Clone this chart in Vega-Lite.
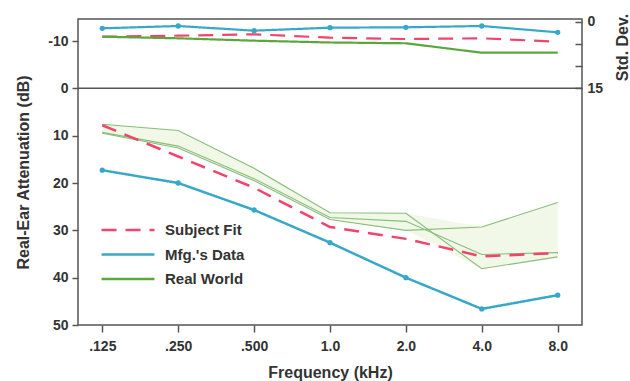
{
  "$schema": "https://vega.github.io/schema/vega-lite/v6.json",
  "width": 504,
  "height": 306,
  "autosize": {"type": "none"},
  "padding": {"left": 78, "top": 19, "right": 48, "bottom": 56},
  "background": "white",
  "config": {
    "view": {"stroke": "#555", "strokeWidth": 1.5},
    "font": "Liberation Sans",
    "axis": {
      "labelFont": "Liberation Sans", "labelFontWeight": "bold", "labelFontSize": 14, "labelColor": "#333",
      "titleFont": "Liberation Sans", "titleFontWeight": "bold", "titleFontSize": 16, "titleColor": "#333",
      "tickColor": "#555", "tickWidth": 1.5, "domain": false, "grid": false
    },
    "legend": {
      "orient": "none", "legendX": 22, "legendY": 204,
      "symbolType": "stroke", "symbolSize": 2800, "symbolStrokeWidth": 2.5,
      "labelFont": "Liberation Sans", "labelFontWeight": "bold", "labelFontSize": 15, "labelColor": "#333",
      "labelOffset": 9, "clipHeight": 14, "rowPadding": 9.5
    }
  },
  "datasets": {
    "main": [
      {"freq": ".125", "series": "Subject Fit", "db": 7.8},
      {"freq": ".250", "series": "Subject Fit", "db": 14.4},
      {"freq": ".500", "series": "Subject Fit", "db": 21.0},
      {"freq": "1.0", "series": "Subject Fit", "db": 29.3},
      {"freq": "2.0", "series": "Subject Fit", "db": 31.8},
      {"freq": "4.0", "series": "Subject Fit", "db": 35.5},
      {"freq": "8.0", "series": "Subject Fit", "db": 34.8},
      {"freq": ".125", "series": "Mfg.'s Data", "db": 17.3},
      {"freq": ".250", "series": "Mfg.'s Data", "db": 20.0},
      {"freq": ".500", "series": "Mfg.'s Data", "db": 25.7},
      {"freq": "1.0", "series": "Mfg.'s Data", "db": 32.6},
      {"freq": "2.0", "series": "Mfg.'s Data", "db": 40.0},
      {"freq": "4.0", "series": "Mfg.'s Data", "db": 46.6},
      {"freq": "8.0", "series": "Mfg.'s Data", "db": 43.7}
    ],
    "rw": [
      {"freq": ".125", "line": "A", "db": 7.6},
      {"freq": ".250", "line": "A", "db": 8.9},
      {"freq": ".500", "line": "A", "db": 16.9},
      {"freq": "1.0", "line": "A", "db": 26.3},
      {"freq": "2.0", "line": "A", "db": 26.4},
      {"freq": "4.0", "line": "A", "db": 38.1},
      {"freq": "8.0", "line": "A", "db": 35.6},
      {"freq": ".125", "line": "B", "db": 9.3},
      {"freq": ".250", "line": "B", "db": 12.2},
      {"freq": ".500", "line": "B", "db": 19.1},
      {"freq": "1.0", "line": "B", "db": 27.3},
      {"freq": "2.0", "line": "B", "db": 28.1},
      {"freq": "4.0", "line": "B", "db": 35.1},
      {"freq": "8.0", "line": "B", "db": 34.7},
      {"freq": ".125", "line": "C", "db": 9.5},
      {"freq": ".250", "line": "C", "db": 12.6},
      {"freq": ".500", "line": "C", "db": 19.5},
      {"freq": "1.0", "line": "C", "db": 27.7},
      {"freq": "2.0", "line": "C", "db": 30.0},
      {"freq": "4.0", "line": "C", "db": 29.3},
      {"freq": "8.0", "line": "C", "db": 24.1}
    ],
    "band": [
      {"freq": ".125", "lo": 7.6, "hi": 9.5},
      {"freq": ".250", "lo": 8.9, "hi": 12.6},
      {"freq": ".500", "lo": 16.9, "hi": 19.5},
      {"freq": "1.0", "lo": 26.3, "hi": 27.7},
      {"freq": "2.0", "lo": 26.4, "hi": 30.0},
      {"freq": "4.0", "lo": 29.3, "hi": 38.1},
      {"freq": "8.0", "lo": 24.1, "hi": 35.6}
    ],
    "zero": [{"v": 0}],
    "sd": [
      {"freq": ".125", "series": "Mfg.'s Data", "sd": 1.43},
      {"freq": ".250", "series": "Mfg.'s Data", "sd": 0.91},
      {"freq": ".500", "series": "Mfg.'s Data", "sd": 1.97},
      {"freq": "1.0", "series": "Mfg.'s Data", "sd": 1.29},
      {"freq": "2.0", "series": "Mfg.'s Data", "sd": 1.2},
      {"freq": "4.0", "series": "Mfg.'s Data", "sd": 0.91},
      {"freq": "8.0", "series": "Mfg.'s Data", "sd": 2.34},
      {"freq": ".125", "series": "Subject Fit", "sd": 3.34},
      {"freq": ".250", "series": "Subject Fit", "sd": 3.11},
      {"freq": ".500", "series": "Subject Fit", "sd": 2.79},
      {"freq": "1.0", "series": "Subject Fit", "sd": 3.56},
      {"freq": "2.0", "series": "Subject Fit", "sd": 3.86},
      {"freq": "4.0", "series": "Subject Fit", "sd": 3.7},
      {"freq": "8.0", "series": "Subject Fit", "sd": 4.47},
      {"freq": ".125", "series": "Real World", "sd": 3.34},
      {"freq": ".250", "series": "Real World", "sd": 3.7},
      {"freq": ".500", "series": "Real World", "sd": 4.24},
      {"freq": "1.0", "series": "Real World", "sd": 4.65},
      {"freq": "2.0", "series": "Real World", "sd": 4.83},
      {"freq": "4.0", "series": "Real World", "sd": 6.97},
      {"freq": "8.0", "series": "Real World", "sd": 6.97}
    ]
  },
  "layer": [
    {
      "layer": [
        {
          "data": {"name": "band"},
          "mark": {"type": "area", "color": "#f1f8e7", "opacity": 1},
          "encoding": {
            "x": {"field": "freq", "type": "ordinal", "title": "Frequency (kHz)",
                  "scale": {"type": "point", "domain": [".125", ".250", ".500", "1.0", "2.0", "4.0", "8.0"], "padding": 0.32},
                  "axis": {"title": "Frequency (kHz)", "labelAngle": 0, "tickSize": 7, "labelPadding": 7, "titlePadding": 11}},
            "y": {"field": "lo", "type": "quantitative", "title": "Real-Ear Attenuation (dB)",
                  "scale": {"domain": [-14.65, 50], "reverse": true, "nice": false, "zero": false},
                  "axis": {"orient": "left", "title": "Real-Ear Attenuation (dB)", "values": [-10, 0, 10, 20, 30, 40, 50],
                           "labelExpr": "'' + datum.value", "tickSize": 6, "labelPadding": 4, "titlePadding": 16}},
            "y2": {"field": "hi"}
          }
        },
        {
          "data": {"name": "rw"},
          "mark": {"type": "line", "color": "#88bd7a", "strokeWidth": 1.1},
          "encoding": {
            "x": {"field": "freq", "type": "ordinal", "title": "Frequency (kHz)", "scale": {"type": "point", "domain": [".125", ".250", ".500", "1.0", "2.0", "4.0", "8.0"], "padding": 0.32}},
            "y": {"field": "db", "type": "quantitative", "title": "Real-Ear Attenuation (dB)", "scale": {"domain": [-14.65, 50], "reverse": true, "nice": false, "zero": false}},
            "detail": {"field": "line"}
          }
        },
        {
          "data": {"name": "zero"},
          "mark": {"type": "rule", "color": "#555", "strokeWidth": 1.5},
          "encoding": {
            "y": {"field": "v", "type": "quantitative", "title": "Real-Ear Attenuation (dB)", "scale": {"domain": [-14.65, 50], "reverse": true, "nice": false, "zero": false}}
          }
        },
        {
          "data": {"name": "main"},
          "mark": {"type": "line", "strokeWidth": 2.5},
          "encoding": {
            "x": {"field": "freq", "type": "ordinal", "title": "Frequency (kHz)", "scale": {"type": "point", "domain": [".125", ".250", ".500", "1.0", "2.0", "4.0", "8.0"], "padding": 0.32}},
            "y": {"field": "db", "type": "quantitative", "title": "Real-Ear Attenuation (dB)", "scale": {"domain": [-14.65, 50], "reverse": true, "nice": false, "zero": false}},
            "color": {"field": "series", "type": "nominal",
                      "scale": {"domain": ["Subject Fit", "Mfg.'s Data", "Real World"], "range": ["#f0446c", "#38a8c8", "#5aa83c"]},
                      "legend": {"title": null}},
            "strokeDash": {"field": "series", "type": "nominal",
                           "scale": {"domain": ["Subject Fit", "Mfg.'s Data", "Real World"], "range": [[15, 9], [1, 0], [1, 0]]},
                           "legend": {"title": null}}
          }
        },
        {
          "data": {"name": "main"},
          "transform": [{"filter": "datum.series === \"Mfg.'s Data\""}],
          "mark": {"type": "point", "filled": true, "color": "#38a8c8", "size": 28, "opacity": 1},
          "encoding": {
            "x": {"field": "freq", "type": "ordinal", "title": "Frequency (kHz)", "scale": {"type": "point", "domain": [".125", ".250", ".500", "1.0", "2.0", "4.0", "8.0"], "padding": 0.32}},
            "y": {"field": "db", "type": "quantitative", "title": "Real-Ear Attenuation (dB)", "scale": {"domain": [-14.65, 50], "reverse": true, "nice": false, "zero": false}}
          }
        }
      ]
    },
    {
      "layer": [
        {
          "data": {"name": "sd"},
          "mark": {"type": "line", "strokeWidth": 2.2},
          "encoding": {
            "x": {"field": "freq", "type": "ordinal", "title": "Frequency (kHz)", "scale": {"type": "point", "domain": [".125", ".250", ".500", "1.0", "2.0", "4.0", "8.0"], "padding": 0.32}},
            "y": {"field": "sd", "type": "quantitative", "title": "Std. Dev.",
                  "scale": {"domain": [-0.68, 68.76], "reverse": true, "nice": false, "zero": false},
                  "axis": {"orient": "right", "title": "Std. Dev.", "values": [0, 5, 10, 15],
                           "labelExpr": "datum.value == 0 || datum.value == 15 ? datum.label : ''",
                           "tickSize": -7, "labelPadding": 12, "titleAngle": -90, "titleX": 40, "titleY": 28,
                           "titleAlign": "center", "titleBaseline": "middle"}},
            "color": {"field": "series", "type": "nominal",
                      "scale": {"domain": ["Subject Fit", "Mfg.'s Data", "Real World"], "range": ["#f0446c", "#38a8c8", "#5aa83c"]},
                      "legend": {"title": null}},
            "strokeDash": {"field": "series", "type": "nominal",
                           "scale": {"domain": ["Subject Fit", "Mfg.'s Data", "Real World"], "range": [[15, 9], [1, 0], [1, 0]]},
                           "legend": {"title": null}}
          }
        },
        {
          "data": {"name": "sd"},
          "transform": [{"filter": "datum.series === \"Mfg.'s Data\""}],
          "mark": {"type": "point", "filled": true, "color": "#38a8c8", "size": 28, "opacity": 1},
          "encoding": {
            "x": {"field": "freq", "type": "ordinal", "title": "Frequency (kHz)", "scale": {"type": "point", "domain": [".125", ".250", ".500", "1.0", "2.0", "4.0", "8.0"], "padding": 0.32}},
            "y": {"field": "sd", "type": "quantitative", "title": "Std. Dev.", "scale": {"domain": [-0.68, 68.76], "reverse": true, "nice": false, "zero": false}}
          }
        }
      ]
    }
  ],
  "resolve": {"scale": {"y": "independent"}, "axis": {"y": "independent"}}
}
